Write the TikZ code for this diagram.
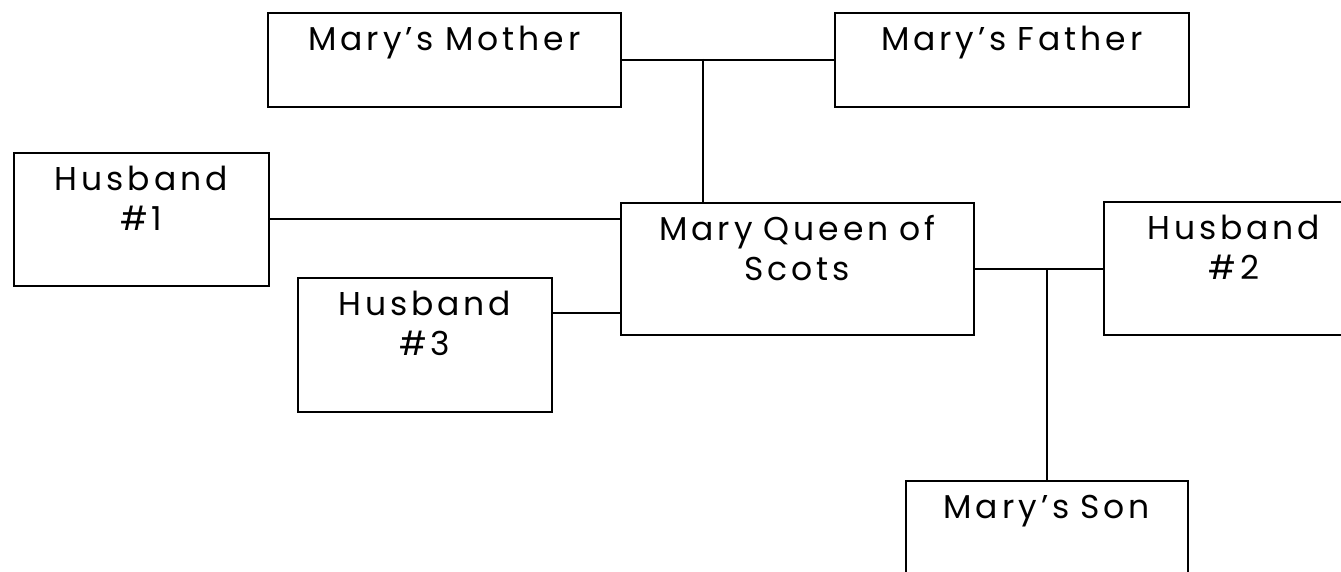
\documentclass[tikz,border=0pt]{standalone}
\usepackage{fontspec}
\setmainfont{Poppins}[LetterSpace=12]
\usetikzlibrary{calc}

\tikzset{
    person/.style={draw, line width=1.6pt, inner sep=0pt, anchor=north west,
        align=center, text height=38pt, font=\fontsize{33}{40}\selectfont},
    link/.style={line width=1.6pt},
}

\begin{document}
\begin{tikzpicture}[x=1pt, y=-1pt]
    \clip (0,0) rectangle (1341,572);

    % parents
    \node[person, text width=353pt, text depth=56pt] (mother) at (267,12) {Mary's Mother};
    \node[person, text width=354pt, text depth=56pt] (father) at (834,12) {Mary's Father};

    % Mary and her husbands
    \node[person, text width=353pt, text depth=94pt] (mary) at (620,202) {Mary Queen of\\Scots};
    \node[person, text width=255pt, text depth=95pt] (husbandA) at (13,152) {Husband\\\#1};
    \node[person, text width=260pt, text depth=95pt] (husbandB) at (1103,201) {Husband\\\#2};
    \node[person, text width=254pt, text depth=96pt] (husbandC) at (297,277) {Husband\\\#3};

    % son
    \node[person, text width=282pt, text depth=62pt] (son) at (905,480) {Mary's Son};

    % connectors
    \coordinate (parents) at (703,59);
    \draw[link] (mother) -- (father);
    \draw[link] (parents) -- (parents |- mary.north);
    \draw[link] (husbandA.east) -- (husbandA.east -| mary.west);
    \draw[link] ([yshift=32pt]husbandC.east) -- ([yshift=32pt]husbandC.east -| mary.west);
    \draw[link] (mary.east) -- (mary.east -| husbandB.west);
    \draw[link] (son.north) -- (son.north |- mary.east);
\end{tikzpicture}
\end{document}
